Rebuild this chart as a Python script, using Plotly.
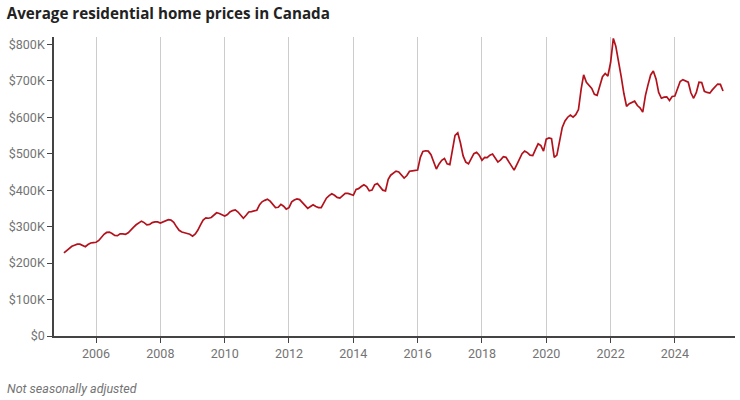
import plotly.graph_objects as go
import pandas as pd

# Average residential home price (thousands of CAD), monthly, Jan 2005 - Jul 2025
p2005 = [228, 235, 241, 246, 249, 252, 252, 248, 245, 251, 255, 256]
p2006 = [257, 262, 270, 279, 284, 285, 281, 276, 275, 280, 280, 279]
p2007 = [283, 292, 298, 305, 311, 315, 311, 305, 306, 311, 313, 313]
p2008 = [310, 313, 316, 319, 318, 312, 300, 290, 285, 282, 281, 279]
p2009 = [274, 280, 290, 305, 318, 324, 323, 325, 333, 338, 336, 332]
p2010 = [329, 333, 340, 344, 346, 340, 330, 323, 331, 340, 341, 342]
p2011 = [345, 360, 368, 372, 375, 370, 362, 352, 353, 361, 356, 348]
p2012 = [352, 368, 373, 376, 374, 366, 356, 350, 355, 360, 355, 352]
p2013 = [352, 365, 378, 385, 390, 386, 380, 378, 386, 391, 391, 389]
p2014 = [386, 402, 404, 410, 415, 410, 398, 400, 415, 418, 408, 400]
p2015 = [398, 430, 441, 448, 452, 450, 440, 433, 440, 452, 453, 454]
p2016 = [455, 490, 506, 508, 507, 497, 480, 458, 472, 482, 487, 472]
p2017 = [470, 515, 550, 557, 530, 494, 477, 472, 486, 500, 504, 496]
p2018 = [482, 490, 489, 496, 499, 488, 477, 483, 492, 490, 478, 465]
p2019 = [455, 470, 485, 500, 507, 503, 496, 495, 512, 527, 522, 507]
p2020 = [540, 543, 541, 490, 496, 535, 572, 590, 600, 606, 600, 607]
p2021 = [621, 678, 716, 696, 688, 679, 663, 660, 686, 711, 720, 713]
p2022 = [750, 816, 795, 746, 712, 665, 630, 637, 641, 644, 632, 626]
p2023 = [614, 660, 688, 716, 727, 705, 668, 652, 655, 656, 646, 657]
p2024 = [658, 682, 698, 703, 700, 696, 667, 652, 668, 696, 695, 671]
p2025 = [668, 666, 675, 683, 691, 690, 672]

yearly = [p2005, p2006, p2007, p2008, p2009, p2010, p2011, p2012, p2013, p2014,
          p2015, p2016, p2017, p2018, p2019, p2020, p2021, p2022, p2023, p2024, p2025]
prices_k = [v for yr in yearly for v in yr]
dates = pd.date_range("2005-01-01", periods=len(prices_k), freq="MS")
prices = [v * 1000 for v in prices_k]

y_ticks = [0, 100000, 200000, 300000, 400000, 500000, 600000, 700000, 800000]
y_tick_labels = ["$0", "$100K", "$200K", "$300K", "$400K", "$500K", "$600K", "$700K", "$800K"]
x_tick_years = ["2006", "2008", "2010", "2012", "2014", "2016", "2018", "2020", "2022", "2024"]

title_text = "Average residential home prices in Canada"
note_text = "Not seasonally adjusted"

tick_font = "Roboto, sans-serif"
label_color = "#737373"

fig = go.Figure()
fig.add_trace(go.Scatter(
    x=dates, y=prices, mode="lines",
    line=dict(color="#B3121C", width=1.7),
    hoverinfo="skip",
))

fig.update_layout(
    width=740, height=400,
    margin=dict(l=54, r=5, t=37, b=64, autoexpand=False),
    paper_bgcolor="white", plot_bgcolor="white",
    showlegend=False,
    font=dict(family=tick_font, color=label_color, size=12.5),
    title=dict(text="<b>" + title_text + "</b>", x=0.009, xanchor="left",
               y=0.966, yanchor="middle",
               font=dict(family="Open Sans, sans-serif", size=15.2, color="#222222")),
)

fig.update_xaxes(
    type="date",
    range=["2004-09-10", "2025-11-14"],
    tickvals=[y + "-01-01" for y in x_tick_years],
    ticktext=x_tick_years,
    showgrid=True, gridcolor="#cccccc", gridwidth=1,
    showline=True, linecolor="#444444", linewidth=1.5,
    ticks="outside", ticklen=5, tickcolor="#444444",
    tickfont=dict(size=12.5, color=label_color),
    zeroline=False, automargin=False,
)
fig.update_yaxes(
    range=[0, 820000],
    tickvals=y_ticks, ticktext=y_tick_labels,
    showgrid=False,
    showline=True, linecolor="#444444", linewidth=1.5,
    ticks="outside", ticklen=5, tickcolor="#444444",
    tickfont=dict(size=12.5, color=label_color),
    zeroline=False, automargin=False,
)

fig.add_annotation(
    text="<i>" + note_text + "</i>", xref="paper", yref="paper",
    x=-0.072, y=-0.174, xanchor="left", yanchor="middle", showarrow=False,
    font=dict(size=12.5, color=label_color),
)

fig.write_html("out.html", config={"displayModeBar": False},
               post_script="document.body.style.margin='0';")
